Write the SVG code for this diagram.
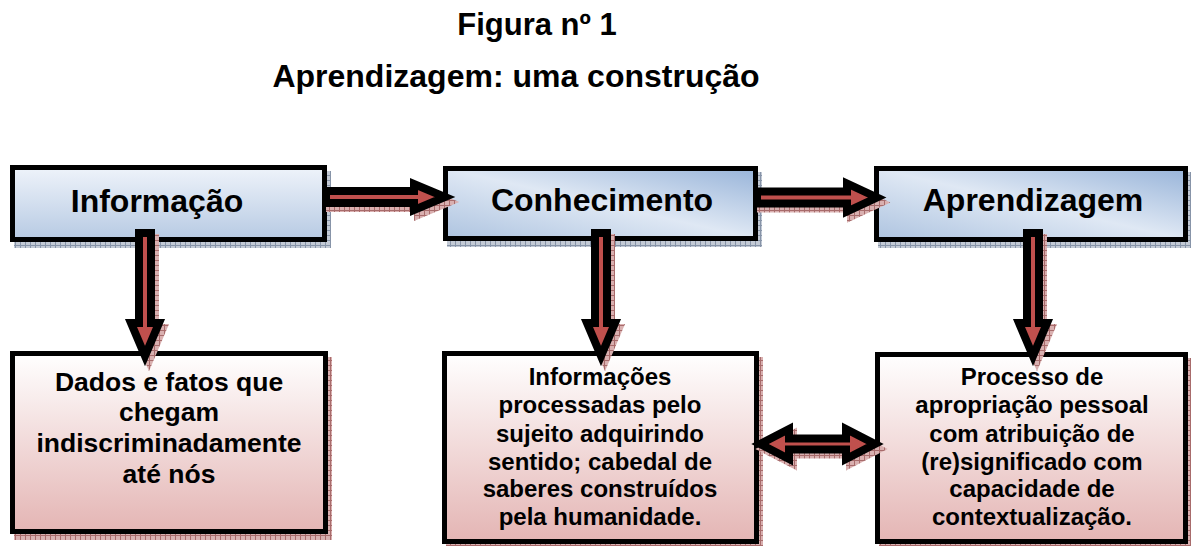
<svg xmlns="http://www.w3.org/2000/svg" width="1191" height="546" viewBox="0 0 1191 546">
<defs>
<style>
text{font-family:"Liberation Sans",Arial,sans-serif;font-weight:bold;fill:#000;text-anchor:middle}
.title{font-size:31px}
.head{font-size:32px}
.b4{font-size:26.5px}
.b56{font-size:24px}
.box{stroke:#000;stroke-width:5}
.arrow{fill:#c0504d;stroke:#000;stroke-width:8;stroke-linejoin:miter;stroke-miterlimit:10}
.ashadow{fill:url(#hp);stroke:url(#hp);stroke-width:8;stroke-linejoin:miter;stroke-miterlimit:10}
</style>
<linearGradient id="gBlueV" x1="0" y1="0" x2="0" y2="1">
<stop offset="0" stop-color="#eef3fa"/><stop offset="1" stop-color="#b7cae3"/>
</linearGradient>
<linearGradient id="gBlueD" x1="1" y1="0" x2="0" y2="1">
<stop offset="0" stop-color="#98b4d9"/><stop offset="0.5" stop-color="#dfe8f4"/><stop offset="1" stop-color="#aec4e0"/>
</linearGradient>
<linearGradient id="gPink" x1="0" y1="0" x2="0" y2="1">
<stop offset="0" stop-color="#ffffff"/><stop offset="1" stop-color="#e4b5b4"/>
</linearGradient>
<pattern id="hb" width="5" height="5" patternUnits="userSpaceOnUse">
<rect width="5" height="5" fill="#c3cad5"/><path d="M0,0.5H5M0.5,0V5" stroke="#8794a8" stroke-width="1"/>
</pattern>
<pattern id="hp" width="5" height="5" patternUnits="userSpaceOnUse">
<rect width="5" height="5" fill="#d9b0b0"/><path d="M0,0.5H5M0.5,0V5" stroke="#a86b6b" stroke-width="1"/>
</pattern>
</defs>
<rect width="1191" height="546" fill="#fff"/>

<g id="title">
<text class="title" x="537" y="35">Figura nº 1</text>
<text class="head" x="516" y="87">Aprendizagem: uma construção</text>
</g>

<g id="node-informacao">
<rect x="14" y="171" width="317" height="77" fill="url(#hb)"/>
<rect class="box" x="12.5" y="167.5" width="312" height="72" fill="url(#gBlueV)"/>
<text class="head" x="157" y="212">Informação</text>
</g>
<g id="node-conhecimento">
<rect x="447" y="172" width="315" height="75" fill="url(#hb)"/>
<rect class="box" x="445.5" y="168.5" width="310" height="70" fill="url(#gBlueD)"/>
<text class="head" x="602" y="211">Conhecimento</text>
</g>
<g id="node-aprendizagem">
<rect x="878" y="172" width="314" height="76" fill="url(#hb)"/>
<rect class="box" x="876.5" y="168.5" width="309" height="71" fill="url(#gBlueD)"/>
<text class="head" x="1033" y="211">Aprendizagem</text>
</g>

<g id="node-dados">
<rect x="14" y="357" width="318" height="183" fill="url(#hp)"/>
<rect class="box" x="12.5" y="353.5" width="313" height="178" fill="url(#gPink)"/>
<text class="b4" x="169" y="391">Dados e fatos que</text>
<text class="b4" x="169" y="421">chegam</text>
<text class="b4" x="169" y="452">indiscriminadamente</text>
<text class="b4" x="169" y="483">até nós</text>
</g>
<g id="node-informacoes">
<rect x="446" y="357" width="317" height="193" fill="url(#hp)"/>
<rect class="box" x="444.5" y="353.5" width="312" height="188" fill="url(#gPink)"/>
<text class="b56" x="600" y="385">Informações</text>
<text class="b56" x="600" y="413">processadas pelo</text>
<text class="b56" x="600" y="442">sujeito adquirindo</text>
<text class="b56" x="600" y="470">sentido; cabedal de</text>
<text class="b56" x="600" y="497">saberes construídos</text>
<text class="b56" x="600" y="525">pela humanidade.</text>
</g>
<g id="node-processo">
<rect x="879" y="358" width="313" height="192" fill="url(#hp)"/>
<rect class="box" x="877.5" y="354.5" width="308" height="187" fill="url(#gPink)"/>
<text class="b56" x="1032" y="385">Processo de</text>
<text class="b56" x="1032" y="413">apropriação pessoal</text>
<text class="b56" x="1032" y="442">com atribuição de</text>
<text class="b56" x="1032" y="470">(re)significado com</text>
<text class="b56" x="1032" y="497">capacidade de</text>
<text class="b56" x="1032" y="525">contextualização.</text>
</g>

<g id="connectors">
<g transform="translate(4,5)">
<path class="ashadow" d="M326,191 H414 V184 L445,197 L414,210 V203 H326 Z"/>
<path class="ashadow" d="M757,191.5 H847 V183.5 L877,197.5 L847,211.5 V203.5 H757 Z"/>
<path class="ashadow" d="M139,233 V323 H131 L145,356 L159,323 H151 V233 Z"/>
<path class="ashadow" d="M595,233 V323 H587 L601,356 L615,323 H607 V233 Z"/>
<path class="ashadow" d="M1027,233 V323 H1019 L1033,356 L1047,323 H1039 V233 Z"/>
<path class="ashadow" d="M760,444 L789,429 V438.5 H846 V429 L875,444 L846,459 V449.5 H789 V459 Z"/>
</g>
<path class="arrow" d="M326,191 H414 V184 L445,197 L414,210 V203 H326 Z"/>
<path class="arrow" d="M757,191.5 H847 V183.5 L877,197.5 L847,211.5 V203.5 H757 Z"/>
<path class="arrow" d="M139,233 V323 H131 L145,356 L159,323 H151 V233 Z"/>
<path class="arrow" d="M595,233 V323 H587 L601,356 L615,323 H607 V233 Z"/>
<path class="arrow" d="M1027,233 V323 H1019 L1033,356 L1047,323 H1039 V233 Z"/>
<path class="arrow" d="M760,444 L789,429 V438.5 H846 V429 L875,444 L846,459 V449.5 H789 V459 Z"/>
</g>
</svg>
